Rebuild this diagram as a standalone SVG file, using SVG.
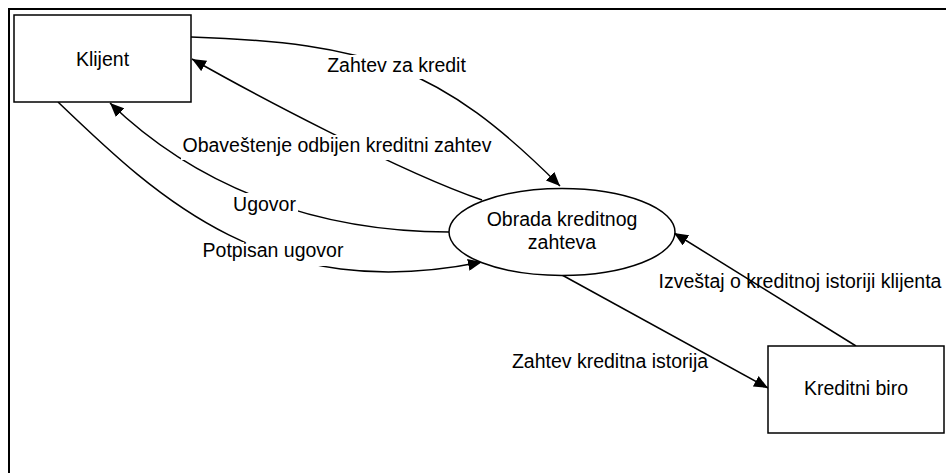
<svg xmlns="http://www.w3.org/2000/svg" width="946" height="473" viewBox="0 0 946 473">
<defs>
<style>
.lbl{font-family:"Liberation Sans",Arial,sans-serif;font-size:19.5px;fill:#000;text-anchor:middle}
.node{fill:#fff;stroke:#000;stroke-width:1.5}
.con{fill:none;stroke:#000;stroke-width:1.5}
.bg{fill:#fff;stroke:none}
</style>
<marker id="ah" viewBox="0 0 14 12" refX="14" refY="6" markerWidth="14" markerHeight="12" markerUnits="userSpaceOnUse" orient="auto">
<path d="M0,0 L14,6 L0,12 z" fill="#000"/>
</marker>
</defs>
<rect x="0" y="0" width="946" height="473" fill="#fff"/>
<rect x="9" y="9" width="1000" height="1000" fill="none" stroke="#000" stroke-width="2"/>

<g id="connectors">
<path class="con" d="M191,37 C370,43 440,66 560,186" marker-end="url(#ah)"/>
<path class="con" d="M482,200 C400,172 250,92 192,59" marker-end="url(#ah)"/>
<path class="con" d="M449,232 C320,232 200,190 110,103" marker-end="url(#ah)"/>
<path class="con" d="M58,102 C160,200 270,305 482,262" marker-end="url(#ah)"/>
<path class="con" d="M562,275 L768,388" marker-end="url(#ah)"/>
<path class="con" d="M856,346 L674,233" marker-end="url(#ah)"/>
</g>

<g id="labels">
<rect class="bg" x="326" y="55" width="141" height="24"/>
<text class="lbl" x="396.5" y="72">Zahtev za kredit</text>
<rect class="bg" x="181" y="135" width="313" height="25"/>
<text class="lbl" x="337" y="152">Obaveštenje odbijen kreditni zahtev</text>
<rect class="bg" x="231" y="193" width="67" height="23"/>
<text class="lbl" x="264.5" y="211">Ugovor</text>
<rect class="bg" x="201" y="242" width="144" height="24"/>
<text class="lbl" x="273" y="257">Potpisan ugovor</text>
<text class="lbl" x="610" y="368">Zahtev kreditna istorija</text>
<text class="lbl" x="800" y="288">Izveštaj o kreditnoj istoriji klijenta</text>
</g>

<g id="klijent">
<rect class="node" x="14" y="15" width="177" height="87"/>
<text class="lbl" x="102.5" y="66">Klijent</text>
</g>

<g id="obrada">
<ellipse class="node" cx="562" cy="232" rx="113" ry="43.5"/>
<text class="lbl" x="562" y="226">Obrada kreditnog</text>
<text class="lbl" x="562" y="249">zahteva</text>
</g>

<g id="biro">
<rect class="node" x="768" y="346" width="176" height="87"/>
<text class="lbl" x="856" y="395">Kreditni biro</text>
</g>
</svg>
